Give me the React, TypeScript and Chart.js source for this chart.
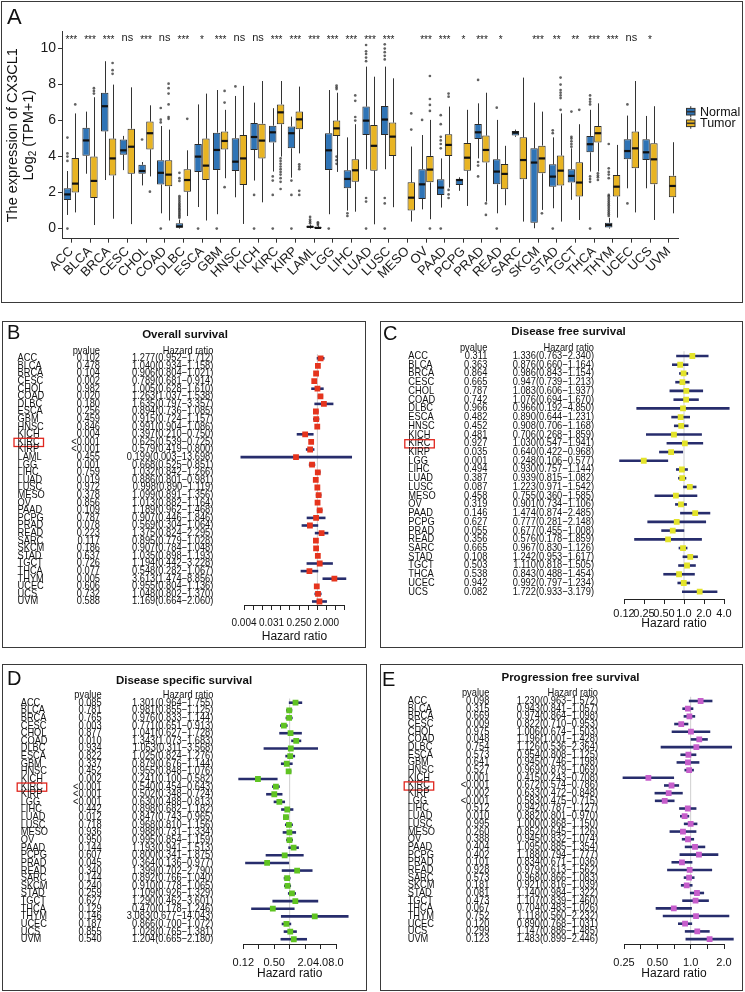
import React, { useEffect, useRef } from "react";
import { Chart, registerables } from "chart.js";
Chart.register(...registerables);

const FONT = '"Liberation Sans", Arial, Helvetica, sans-serif';

// ---------------- Panel A data ----------------
const CANCERS = ["ACC","BLCA","BRCA","CESC","CHOL","COAD","DLBC","ESCA","GBM","HNSC","KICH","KIRC","KIRP","LAML","LGG","LIHC","LUAD","LUSC","MESO","OV","PAAD","PCPG","PRAD","READ","SARC","SKCM","STAD","TGCT","THCA","THYM","UCEC","UCS","UVM"];
// [lower whisker, Q1, median, Q3, upper whisker]
const NORMAL_BOX: (number[] | null)[] = [
  [0.76,1.59,1.9,2.24,3.2],[3.05,4.05,4.9,5.6,6.5],[2.7,5.4,6.8,7.55,9.3],[3.25,4.1,4.35,4.95,5.15],
  [2.4,3.05,3.2,3.55,3.7],[0.85,2.45,3.1,3.8,5.7],[0,0.05,0.12,0.3,0.5],[1.2,3.15,4.0,4.7,6.9],
  [0.8,3.25,4.37,5.33,7.7],[1.74,3.2,3.72,5.02,7.37],[2.67,4.37,5.09,5.87,7.0],[3.17,4.78,5.35,5.72,6.69],
  [2.83,4.46,5.3,5.67,6.22],[0,0.05,0.1,0.15,0.22],[0.8,3.25,4.35,5.3,7.7],[1.0,2.24,2.76,3.24,5.07],
  [3.3,5.2,6.0,6.78,9.0],[3.3,5.2,6.06,6.81,9.0],null,[1.07,1.65,2.46,3.3,5.2],
  [1.17,1.87,2.28,2.74,3.9],[2.1,2.43,2.7,2.76,2.85],[3.9,4.98,5.35,5.81,6.96],[0.85,2.46,3.17,3.85,6.04],
  [5.1,5.17,5.33,5.43,5.5],[0.02,0.33,3.67,4.46,7.0],[1.13,2.33,2.89,3.57,5.07],[1.6,2.56,2.93,3.3,4.46],
  [3.17,4.24,4.69,5.15,6.6],[0,0.06,0.2,0.33,0.6],[2.24,3.85,4.31,4.96,6.28],[2.24,3.81,4.24,4.96,6.26],null
];
const TUMOR_BOX: (number[] | null)[] = [
  [0.9,2.0,2.5,3.92,6.4],[0.2,1.7,2.65,4.0,7.3],[0.55,2.95,3.9,5.0,8.0],[0.25,3.05,4.55,5.55,7.85],
  [2.9,4.4,5.3,5.95,6.85],[0.45,2.35,3.0,3.8,5.5],[0.7,2.05,2.7,3.3,4.35],[0.45,2.7,3.5,5.0,7.5],
  [2.8,4.4,4.87,5.4,6.6],[0.26,2.43,3.9,5.2,7.93],[1.46,3.9,4.89,5.83,8.2],[4.0,5.8,6.46,6.9,8.2],
  [4.18,5.52,6.07,6.5,7.89],[0,0,0.04,0.1,0.15],[3.15,5.15,5.57,6.0,7.55],[0.94,2.61,3.24,3.85,5.8],
  [0.24,3.22,4.6,5.76,8.44],[1.19,4.04,5.11,5.89,8.35],[0.39,1.0,1.72,2.57,4.56],[0.52,2.57,3.28,4.04,6.04],
  [2.28,4.04,4.65,5.24,6.78],[1.26,3.22,3.94,4.76,6.6],[1.5,3.67,4.37,5.17,7.55],[1.3,2.19,3.04,3.59,4.6],
  [0.39,2.74,3.81,5.07,8.39],[1.04,3.07,3.9,4.61,6.5],[0.39,2.39,3.22,4.06,6.4],[0.48,1.78,2.56,3.69,5.8],
  [3.17,4.78,5.3,5.7,6.96],[0.61,1.78,2.33,2.98,4.65],[0.9,3.35,4.46,5.39,8.2],[0.48,2.46,3.85,4.74,6.8],
  [0.85,1.74,2.37,2.94,4.8]
];
const NORMAL_OUT: number[][] = [
  [0,3.76,4.0,4.18,5.06],[],[],[],[4.95],[0,5.9,6.05,6.7],
  [0.6,0.68,0.76,0.84,0.92,1.0,1.08,1.16,1.24,1.32,1.4,1.5,1.6,1.7,1.8,2.65,2.8,3.1],
  [0],[0],[7.9],[1.87,0],[2.9,2.67,1.87,0],[2.67,1.87,0],[0.3,0.4,0.5,0.65],[0],[0.7,0.85],
  [9.3,9.5,9.7,9.85,10.2,1.7,1.5,0],[9.4,9.6,9.8,10.0,10.24,1.7,1.4,0],[],[6.04],
  [0,4.46,4.7,4.9,5.1,5.8,6.3],[],[8.26,3.7,3.5,2.9],[6.72,0],[],[],[5.3,5.46,0],
  [4.55,4.7,4.85,5.0,5.1,6.5],[6.9,7.05,7.2,7.4,2.9,2.75,2.6,0],
  [0.7,0.8,0.9,1.0,1.1,1.2,1.3,1.4,1.5,1.6,1.7,1.8,1.87,2.8,3.0,3.15,3.35,4.7],
  [6.9,1.4],[],[]
];
const TUMOR_OUT: number[][] = [
  [6.9],[7.5,7.65,7.8],[8.6,8.8,9.2],[],[2.05],[6.1,6.2,6.9,7.5,7.8,8.05],[6.1],[],
  [7.0,7.65,2.3],[],[],[3.9,3.75,3.6,3.45,3.3,3.15,3.0,2.8,2.6,2.2],[3.57,3.44,3.3,2.1,1.87],
  [0.2,0.28,0.35],[7.75,7.85,7.95,3.6,3.8,4.0],[6.0,6.2,7.1,7.4],[],[],[5.5,6.4],
  [6.54,6.87,7.2,8.48,0],[7.33,7.5,2.15,1.9,1.7],[],[0.76,1.4],[],[],[0.85],
  [6.6,7.25,7.4,7.55,7.7,8.0,8.39],[6.6],[3.07,2.95,2.85,2.7],[],[],[],[]
];
const SIGNIF = ["***","***","***","ns","***","ns","***","*","***","ns","ns","***","***","***","***","***","***","***","","***","***","*","***","*","","***","**","**","***","***","ns","*",""];
const EXPR_TICKS = [0, 2, 4, 6, 8, 10];
const GROUPS = ["Normal", "Tumor"];

// ---------------- Forest data ----------------
const OS_NAMES = CANCERS;
const OS_P = ["0.102","0.478","0.104","0.002","0.982","0.020","0.180","0.256","0.459","0.846","0.004","<0.001","<0.001","0.455","0.001","0.759","0.019","0.972","0.378","0.856","0.109","0.787","0.078","0.223","0.117","0.186","0.637","0.726","0.077","0.005","0.606","0.732","0.588"];
const OS_HR = [1.277,1.040,0.906,0.789,1.005,1.263,1.635,0.894,0.915,0.991,0.397,0.625,0.579,0.199,0.668,1.032,0.886,0.998,1.099,1.013,1.189,0.907,0.569,1.375,0.895,0.907,1.035,1.194,0.548,3.613,0.955,1.048,1.169];
const OS_LOW = [0.952,0.934,0.804,0.681,0.628,1.037,0.797,0.736,0.724,0.904,0.210,0.539,0.419,0.003,0.525,0.842,0.801,0.890,0.891,0.882,0.962,0.446,0.304,0.824,0.779,0.784,0.898,0.442,0.282,1.474,0.804,0.802,0.664];
const OS_HIGH = [1.712,1.158,1.021,0.914,1.610,1.538,3.357,1.085,1.157,1.086,0.750,0.725,0.800,13.698,0.851,1.266,0.981,1.119,1.356,1.164,1.468,1.846,1.064,2.295,1.028,1.048,1.193,3.228,1.067,8.856,1.136,1.370,2.060];

const DFS_NAMES = ["ACC","BLCA","BRCA","CESC","CHOL","COAD","DLBC","ESCA","HNSC","KICH","KIRC","KIRP","LGG","LIHC","LUAD","LUSC","MESO","OV","PAAD","PCPG","PRAD","READ","SARC","STAD","TGCT","THCA","UCEC","UCS"];
const DFS_P = ["0.311","0.363","0.864","0.665","0.787","0.742","0.966","0.482","0.452","0.481","0.927","0.035","0.001","0.494","0.387","0.087","0.458","0.319","0.146","0.627","0.055","0.356","0.665","0.108","0.503","0.538","0.942","0.082"];
const DFS_HR = [1.336,0.876,0.986,0.947,1.083,1.076,0.966,0.890,0.908,0.706,1.030,0.640,0.248,0.930,0.939,1.223,0.755,0.901,1.474,0.777,0.677,0.576,0.967,1.242,1.110,0.843,0.992,1.722];
const DFS_LOW = [0.763,0.660,0.843,0.739,0.606,0.694,0.192,0.644,0.706,0.268,0.547,0.422,0.106,0.757,0.815,0.971,0.360,0.734,0.874,0.281,0.455,0.178,0.830,0.953,0.818,0.488,0.797,0.933];
const DFS_HIGH = [2.340,1.164,1.154,1.213,1.937,1.670,4.850,1.231,1.168,1.859,1.941,0.968,0.577,1.144,1.082,1.542,1.585,1.106,2.485,2.148,1.008,1.859,1.126,1.617,1.505,1.454,1.234,3.179];

const DSS_NAMES = ["ACC","BLCA","BRCA","CESC","CHOL","COAD","DLBC","ESCA","GBM","HNSC","KICH","KIRC","KIRP","LGG","LIHC","LUAD","LUSC","MESO","OV","PAAD","PCPG","PRAD","READ","SARC","SKCM","STAD","TGCT","THCA","THYM","UCEC","UCS","UVM"];
const DSS_P = ["0.085","0.781","0.765","0.003","0.877","0.010","0.934","0.822","0.337","0.452","0.002","<0.001","<0.001","<0.001","0.442","0.012","0.718","0.936","0.950","0.144","0.607","0.045","0.340","0.144","0.240","0.259","0.627","0.129","0.146","0.187","0.855","0.540"];
const DSS_HR = [1.301,0.981,0.976,0.771,1.041,1.343,1.053,1.025,0.879,0.955,0.241,0.540,0.502,0.630,0.898,0.847,0.968,0.988,0.995,1.193,0.800,0.364,1.399,0.892,0.910,1.109,1.290,0.470,3.083,0.866,1.028,1.204];
const DSS_LOW = [0.964,0.855,0.833,0.651,0.627,1.073,0.311,0.824,0.676,0.848,0.100,0.454,0.348,0.488,0.682,0.743,0.810,0.731,0.854,0.941,0.341,0.136,0.702,0.766,0.778,0.926,0.462,0.178,0.677,0.700,0.765,0.665];
const DSS_HIGH = [1.755,1.125,1.144,0.913,1.728,1.683,3.568,1.276,1.144,1.076,0.582,0.643,0.724,0.813,1.182,0.965,1.156,1.334,1.159,1.513,1.875,0.977,2.790,1.040,1.065,1.329,3.601,1.246,14.043,1.072,1.381,2.180];

const PFS_NAMES = DSS_NAMES;
const PFS_P = ["0.098","0.315","0.669","0.009","0.975","0.048","0.754","0.573","0.641","0.527","0.001","<0.001","0.002","<0.001","0.512","0.010","0.995","0.260","0.388","0.404","0.402","0.101","0.928","0.573","0.181","0.081","0.473","0.067","0.752","0.120","0.299","0.123"];
const PFS_HR = [1.230,0.943,0.974,0.822,1.006,1.196,1.126,0.954,0.945,0.969,0.415,0.672,0.633,0.583,0.942,0.882,1.000,0.852,0.945,1.095,1.188,0.834,0.979,0.968,0.921,1.140,1.107,0.704,1.118,0.890,1.147,1.483];
const PFS_LOW = [0.963,0.841,0.864,0.710,0.674,1.001,0.536,0.808,0.746,0.879,0.243,0.574,0.472,0.475,0.787,0.801,0.868,0.645,0.832,0.885,0.794,0.671,0.613,0.866,0.816,0.984,0.839,0.483,0.560,0.768,0.886,0.899];
const PFS_HIGH = [1.572,1.057,1.098,0.953,1.503,1.428,2.364,1.125,1.198,1.069,0.708,0.786,0.848,0.715,1.127,0.970,1.150,1.126,1.074,1.354,1.777,1.036,1.562,1.083,1.039,1.322,1.460,1.026,2.232,1.031,1.485,2.446];

const OS_TICKS = [2**-8,2**-7,2**-6,2**-5,2**-4,2**-3,2**-2,2**-1,1,2,4,8];
const OS_TICK_LABELS = ["0.004","","","0.031","","","0.250","","","2.000","",""];
const DFS_TICKS = [0.125,0.25,0.5,1,2,4];
const DFS_TICK_LABELS = ["0.12","0.25","0.50","1.0","2.0","4.0"];
const DSS_TICKS = [0.125,0.25,0.5,1,2,4,8];
const DSS_TICK_LABELS = ["0.12","","0.50","","2.0","4.0","8.0"];
const PFS_TICKS = [0.25,0.25*Math.SQRT2,0.5,0.5*Math.SQRT2,1,Math.SQRT2,2];
const PFS_TICK_LABELS = ["0.25","","0.50","","1.0","","2.0"];

const BLUE = "#2F74B6";
const YELLOW = "#E8B423";

function drawText(ctx: any, s: string, x: number, y: number, align: CanvasTextAlign, font: string, sx = 1, color = "#111") {
  ctx.save();
  ctx.font = font;
  ctx.fillStyle = color;
  ctx.textBaseline = "middle";
  ctx.textAlign = align;
  ctx.translate(x, y);
  ctx.scale(sx, 1);
  ctx.fillText(s, 0, 0);
  ctx.restore();
}

// ---------------- Panel A ----------------
function ExpressionChart() {
  const ref = useRef<HTMLCanvasElement>(null);
  const L = 3, T = 3, W = 738, H = 298;
  useEffect(() => {
    const stats = [NORMAL_BOX, TUMOR_BOX];
    const outs = [NORMAL_OUT, TUMOR_OUT];
    const plugin = {
      id: "boxExtras",
      beforeDatasetsDraw(chart: any) {
        const ctx = chart.ctx;
        const ys = chart.scales.y;
        ctx.save();
        ctx.strokeStyle = "#333";
        ctx.lineWidth = 1;
        for (let d = 0; d < 2; d++) {
          const meta = chart.getDatasetMeta(d);
          stats[d].forEach((s, i) => {
            if (!s) return;
            const x = Math.round(meta.data[i].x) + 0.5;
            ctx.beginPath();
            ctx.moveTo(x, ys.getPixelForValue(s[0]));
            ctx.lineTo(x, ys.getPixelForValue(s[1]));
            ctx.moveTo(x, ys.getPixelForValue(s[3]));
            ctx.lineTo(x, ys.getPixelForValue(s[4]));
            ctx.stroke();
          });
        }
        ctx.restore();
      },
      afterDatasetsDraw(chart: any) {
        const ctx = chart.ctx;
        const ys = chart.scales.y;
        const xs = chart.scales.x;
        const area = chart.chartArea;
        ctx.save();
        for (let d = 0; d < 2; d++) {
          const meta = chart.getDatasetMeta(d);
          stats[d].forEach((s, i) => {
            if (!s) return;
            const el = meta.data[i];
            const y = ys.getPixelForValue(s[2]);
            ctx.strokeStyle = "#111";
            ctx.lineWidth = 2.2;
            ctx.beginPath();
            ctx.moveTo(el.x - el.width / 2 + 0.5, y);
            ctx.lineTo(el.x + el.width / 2 - 0.5, y);
            ctx.stroke();
            ctx.fillStyle = "rgba(45,45,45,0.75)";
            outs[d][i].forEach((v) => {
              ctx.beginPath();
              ctx.arc(el.x, ys.getPixelForValue(v), 1.35, 0, Math.PI * 2);
              ctx.fill();
            });
          });
        }
        // significance labels
        const sy = ys.getPixelForValue(10.61);
        SIGNIF.forEach((s, i) => {
          if (!s) return;
          const x = xs.getPixelForValue(i);
          ctx.fillStyle = "#222";
          ctx.textAlign = "center";
          if (s === "ns") {
            ctx.font = `11px ${FONT}`;
            ctx.textBaseline = "middle";
            ctx.fillText(s, x, sy);
          } else {
            ctx.font = `10px ${FONT}`;
            ctx.textBaseline = "alphabetic";
            ctx.fillText(s, x, sy + 5.5);
          }
        });
        // y title
        const midY = (area.top + area.bottom) / 2;
        ctx.fillStyle = "#111";
        ctx.save();
        ctx.translate(9.5, midY);
        ctx.rotate(-Math.PI / 2);
        ctx.font = `14.5px ${FONT}`;
        ctx.textAlign = "center";
        ctx.textBaseline = "middle";
        ctx.fillText("The expression of CX3CL1", 0, 0);
        ctx.restore();
        ctx.save();
        ctx.translate(26, midY);
        ctx.rotate(-Math.PI / 2);
        const f1 = `14.5px ${FONT}`, f2 = `10px ${FONT}`;
        ctx.font = f1;
        const w1 = ctx.measureText("Log").width;
        const w3 = ctx.measureText(" (TPM+1)").width;
        ctx.font = f2;
        const w2 = ctx.measureText("2").width;
        const sx0 = -(w1 + w2 + w3) / 2;
        ctx.textAlign = "left";
        ctx.textBaseline = "middle";
        ctx.font = f1;
        ctx.fillText("Log", sx0, 0);
        ctx.font = f2;
        ctx.fillText("2", sx0 + w1, 4);
        ctx.font = f1;
        ctx.fillText(" (TPM+1)", sx0 + w1 + w2, 0);
        ctx.restore();
        // legend
        const cols = [BLUE, YELLOW];
        GROUPS.forEach((g, k) => {
          const cy = 108.7 + k * 11.6;
          const gx = 683.5, gw = 8.5;
          ctx.strokeStyle = "#333";
          ctx.lineWidth = 1;
          ctx.beginPath();
          ctx.moveTo(gx + gw / 2, cy - 5.5); ctx.lineTo(gx + gw / 2, cy + 5.5);
          ctx.stroke();
          ctx.fillStyle = cols[k];
          ctx.fillRect(gx, cy - 3.3, gw, 6.6);
          ctx.strokeRect(gx, cy - 3.3, gw, 6.6);
          ctx.lineWidth = 1.6;
          ctx.beginPath();
          ctx.moveTo(gx, cy); ctx.lineTo(gx + gw, cy);
          ctx.stroke();
          ctx.fillStyle = "#111";
          ctx.font = `12.5px ${FONT}`;
          ctx.textAlign = "left";
          ctx.textBaseline = "middle";
          ctx.fillText(g, 697, cy + 0.5);
        });
        // panel letter
        ctx.font = `22px ${FONT}`;
        ctx.textAlign = "left";
        ctx.textBaseline = "alphabetic";
        ctx.fillStyle = "#111";
        ctx.fillText("A", 4, 20.5);
        ctx.restore();
      },
    };
    const chart = new Chart(ref.current as HTMLCanvasElement, {
      type: "bar",
      data: {
        labels: CANCERS,
        datasets: [
          {
            label: GROUPS[0],
            data: NORMAL_BOX.map((b) => (b ? [b[1], b[3]] : null)) as any,
            backgroundColor: BLUE,
            borderColor: "#2a2a2a",
            borderWidth: 1,
            borderSkipped: false,
            categoryPercentage: 0.84,
            barPercentage: 0.95,
          },
          {
            label: GROUPS[1],
            data: TUMOR_BOX.map((b) => (b ? [b[1], b[3]] : null)) as any,
            backgroundColor: YELLOW,
            borderColor: "#2a2a2a",
            borderWidth: 1,
            borderSkipped: false,
            categoryPercentage: 0.84,
            barPercentage: 0.95,
          },
        ],
      },
      options: {
        responsive: false,
        animation: false,
        devicePixelRatio: 1,
        layout: { padding: { left: 0, right: 63, top: 28.7, bottom: 0 } },
        plugins: { legend: { display: false }, tooltip: { enabled: false } },
        scales: {
          x: {
            grid: { offset: false, drawOnChartArea: false, drawTicks: true, tickLength: 4, color: "#333" },
            border: { display: true, color: "#333", width: 1 },
            ticks: { autoSkip: false, minRotation: 45, maxRotation: 45, font: { size: 13, family: FONT }, color: "#1a1a1a", padding: 1 },
            afterFit: (s: any) => { s.height = 62.3; },
          },
          y: {
            min: -0.56,
            max: 10.94,
            afterBuildTicks: (s: any) => { s.ticks = EXPR_TICKS.map((v) => ({ value: v })); },
            grid: { drawOnChartArea: false, drawTicks: true, tickLength: 4, color: "#333" },
            border: { display: true, color: "#333", width: 1 },
            ticks: { font: { size: 14, family: FONT }, color: "#1a1a1a", padding: 2 },
            afterFit: (s: any) => { s.width = 59; },
          },
        },
      } as any,
      plugins: [plugin],
    });
    return () => chart.destroy();
  }, []);
  return <canvas ref={ref} width={W} height={H} style={{ position: "absolute", left: L, top: T, width: W, height: H }} />;
}

// ---------------- Forest panels ----------------
type ForestCfg = {
  left: number; top: number; w: number; h: number;
  axisX0: number; axisX1: number; xmin: number; xmax: number;
  ticks: number[]; tickLabels: string[]; tickFont: number;
  row0: number; rowStep: number; axisY: number; tickPad: number; titlePad: number;
  color: string; nameX: number; pX: number; hrX: number; headerY: number;
  title: string; titleX: number; titleY: number; letter: string; letterX: number; letterY: number;
};

function ForestChart(props: { cfg: ForestCfg; names: string[]; pvals: string[]; hr: number[]; low: number[]; high: number[] }) {
  const { cfg, names, pvals, hr, low, high } = props;
  const ref = useRef<HTMLCanvasElement>(null);
  useEffect(() => {
    const n = names.length;
    const L = cfg.left, T = cfg.top;
    const lastRow = cfg.row0 + (n - 1) * cfg.rowStep;
    const yMax = n - 1 + (cfg.axisY - lastRow) / cfg.rowStep;
    const rowFont = `10.8px ${FONT}`;
    const SX = 0.86;
    const plugin = {
      id: "forestExtras",
      beforeDatasetsDraw(chart: any) {
        const ctx = chart.ctx;
        const xs = chart.scales.x, ys = chart.scales.y;
        ctx.save();
        const x1 = xs.getPixelForValue(1);
        ctx.strokeStyle = "#cfcfcf";
        ctx.lineWidth = 1;
        ctx.beginPath();
        ctx.moveTo(x1, ys.getPixelForValue(-0.55));
        ctx.lineTo(x1, chart.chartArea.bottom);
        ctx.stroke();
        ctx.strokeStyle = "#272d6c";
        ctx.lineWidth = 2.6;
        for (let i = 0; i < n; i++) {
          const y = ys.getPixelForValue(i);
          ctx.beginPath();
          ctx.moveTo(xs.getPixelForValue(low[i]), y);
          ctx.lineTo(xs.getPixelForValue(high[i]), y);
          ctx.stroke();
        }
        // table
        drawText(ctx, "pvalue", cfg.pX - L, cfg.headerY - T, "right", rowFont, SX);
        drawText(ctx, "Hazard ratio", cfg.hrX - L, cfg.headerY - T, "right", rowFont, SX);
        for (let i = 0; i < n; i++) {
          const y = ys.getPixelForValue(i);
          drawText(ctx, names[i], cfg.nameX - L, y, "left", rowFont, SX);
          drawText(ctx, pvals[i], cfg.pX - L, y, "right", rowFont, SX);
          const t = `${hr[i].toFixed(3)}(${low[i].toFixed(3)}\u2212${high[i].toFixed(3)})`;
          drawText(ctx, t, cfg.hrX - L, y, "right", rowFont, SX);
          if (names[i] === "KIRC") {
            ctx.strokeStyle = "#E0261E";
            ctx.lineWidth = 1.3;
            ctx.strokeRect(cfg.nameX - L - 3.5, y - 3.6, 29.5, 8.2);
          }
        }
        drawText(ctx, cfg.title, cfg.titleX - L, cfg.titleY - T, "center", `bold 11.5px ${FONT}`, 1, "#111");
        ctx.font = `20px ${FONT}`;
        ctx.fillStyle = "#111";
        ctx.textAlign = "left";
        ctx.textBaseline = "alphabetic";
        ctx.fillText(cfg.letter, cfg.letterX - L, cfg.letterY - T);
        ctx.restore();
      },
    };
    const chart = new Chart(ref.current as HTMLCanvasElement, {
      type: "scatter",
      data: {
        datasets: [
          {
            data: hr.map((v, i) => ({ x: v, y: i })),
            pointStyle: "rect",
            pointRadius: 4.1,
            pointHoverRadius: 4.1,
            backgroundColor: cfg.color,
            borderColor: cfg.color,
            borderWidth: 0,
          },
        ],
      },
      options: {
        responsive: false,
        animation: false,
        devicePixelRatio: 1,
        layout: { padding: { left: cfg.axisX0 - L, right: L + cfg.w - cfg.axisX1, top: cfg.row0 - cfg.rowStep - T, bottom: 0 } },
        plugins: { legend: { display: false }, tooltip: { enabled: false } },
        scales: {
          x: {
            type: "logarithmic",
            min: cfg.xmin,
            max: cfg.xmax,
            afterBuildTicks: (s: any) => { s.ticks = cfg.ticks.map((v) => ({ value: v })); },
            afterFit: (s: any) => { s.height = T + cfg.h - cfg.axisY; },
            ticks: {
              autoSkip: false, minRotation: 0, maxRotation: 0,
              font: { size: cfg.tickFont, family: FONT }, color: "#111", padding: cfg.tickPad,
              callback: (_v: any, idx: number) => cfg.tickLabels[idx],
            },
            grid: { drawOnChartArea: false, drawTicks: true, tickLength: 5, color: "#222" },
            border: { display: true, color: "#222", width: 1 },
            title: { display: true, text: "Hazard ratio", font: { size: 12, family: FONT }, color: "#111", padding: { top: 0, bottom: cfg.titlePad } },
          },
          y: { type: "linear", reverse: true, min: -1, max: yMax, display: false },
        },
      } as any,
      plugins: [plugin],
    });
    return () => chart.destroy();
  }, []);
  return <canvas ref={ref} width={cfg.w} height={cfg.h} style={{ position: "absolute", left: cfg.left, top: cfg.top, width: cfg.w, height: cfg.h }} />;
}

const CFG_B: ForestCfg = {
  left: 3, top: 322, w: 362, h: 325, axisX0: 244, axisX1: 344.9, xmin: 2 ** -8, xmax: 8,
  ticks: OS_TICKS, tickLabels: OS_TICK_LABELS, tickFont: 10, row0: 358.3, rowStep: 7.6, axisY: 605, tickPad: 7, titlePad: 2.8,
  color: "#E5341D", nameX: 17.5, pX: 100, hrX: 213.3, headerY: 350.7,
  title: "Overall survival", titleX: 185, titleY: 335, letter: "B", letterX: 7, letterY: 339,
};
const CFG_C: ForestCfg = {
  left: 381, top: 322, w: 361, h: 325, axisX0: 624, axisX1: 724, xmin: 0.125, xmax: 4,
  ticks: DFS_TICKS, tickLabels: DFS_TICK_LABELS, tickFont: 11, row0: 356, rowStep: 8.73, axisY: 599, tickPad: 3.4, titlePad: 15.8,
  color: "#E3E32B", nameX: 408.3, pX: 487.3, hrX: 594, headerY: 347.7,
  title: "Disease free survival", titleX: 568.5, titleY: 332.3, letter: "C", letterX: 383, letterY: 340,
};
const CFG_D: ForestCfg = {
  left: 3, top: 665, w: 362, h: 325, axisX0: 243.3, axisX1: 336, xmin: 0.125, xmax: 8,
  ticks: DSS_TICKS, tickLabels: DSS_TICK_LABELS, tickFont: 11, row0: 702.7, rowStep: 7.63, axisY: 944, tickPad: 7.7, titlePad: 8.8,
  color: "#5FC322", nameX: 20.7, pX: 101.7, hrX: 213.3, headerY: 695,
  title: "Disease specific survival", titleX: 184, titleY: 680.7, letter: "D", letterX: 7, letterY: 685,
};
const CFG_E: ForestCfg = {
  left: 381, top: 665, w: 361, h: 325, axisX0: 624, axisX1: 724, xmin: 0.25, xmax: 2,
  ticks: PFS_TICKS, tickLabels: PFS_TICK_LABELS, tickFont: 11, row0: 701, rowStep: 7.68, axisY: 944, tickPad: 7.4, titlePad: 8.8,
  color: "#C65ECB", nameX: 407.7, pX: 489.3, hrX: 598, headerY: 693,
  title: "Progression free survival", titleX: 570.5, titleY: 678.3, letter: "E", letterX: 382, letterY: 686,
};

function Frame(props: { left: number; top: number; width: number; height: number }) {
  return (
    <div
      style={{
        position: "absolute", left: props.left, top: props.top, width: props.width, height: props.height,
        border: "1.5px solid #3a3a3a", boxSizing: "border-box", pointerEvents: "none",
      }}
    />
  );
}

export default function App() {
  return (
    <div style={{ position: "absolute", left: 0, top: 0, width: 745, height: 992, background: "#fff", overflow: "hidden" }}>
      <ExpressionChart />
      <ForestChart cfg={CFG_B} names={OS_NAMES} pvals={OS_P} hr={OS_HR} low={OS_LOW} high={OS_HIGH} />
      <ForestChart cfg={CFG_C} names={DFS_NAMES} pvals={DFS_P} hr={DFS_HR} low={DFS_LOW} high={DFS_HIGH} />
      <ForestChart cfg={CFG_D} names={DSS_NAMES} pvals={DSS_P} hr={DSS_HR} low={DSS_LOW} high={DSS_HIGH} />
      <ForestChart cfg={CFG_E} names={PFS_NAMES} pvals={PFS_P} hr={PFS_HR} low={PFS_LOW} high={PFS_HIGH} />
      <Frame left={1} top={1} width={742} height={302} />
      <Frame left={2} top={321} width={364} height={327} />
      <Frame left={380} top={321} width={363} height={327} />
      <Frame left={2} top={664} width={365} height={327} />
      <Frame left={380} top={664} width={363} height={327} />
    </div>
  );
}
